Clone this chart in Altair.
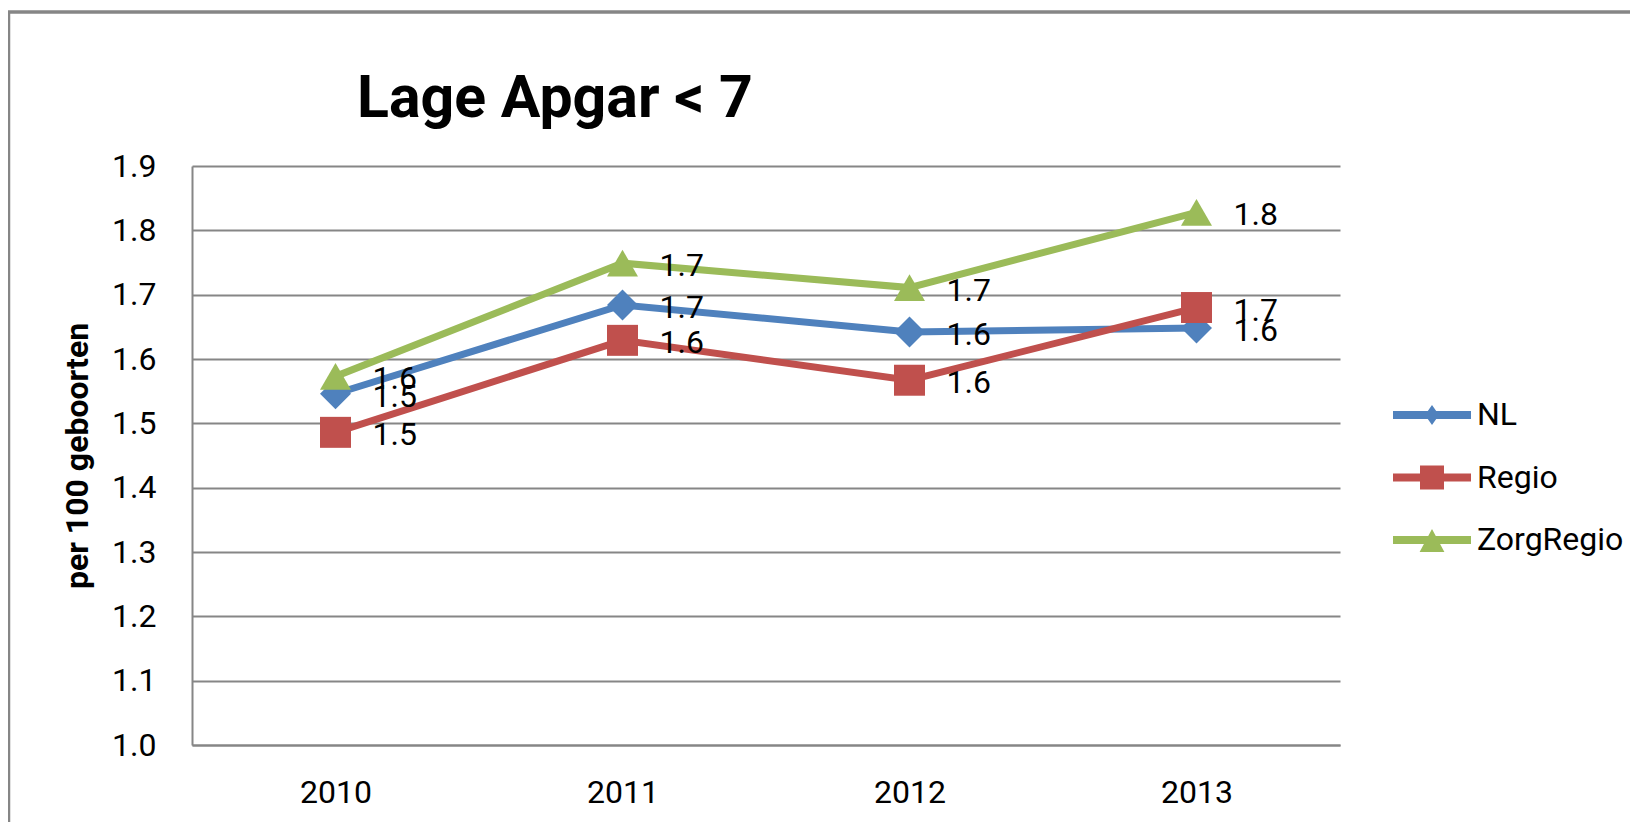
import altair as alt
import pandas as pd

TITLE = "Lage Apgar < 7"
Y_TITLE = "per 100 geboorten"
years = ["2010", "2011", "2012", "2013"]
series = ["NL", "Regio", "ZorgRegio"]
nl = [1.546, 1.684, 1.642, 1.648]
regio = [1.486, 1.629, 1.567, 1.680]
zorg = [1.573, 1.749, 1.711, 1.828]
y_ticks = [1.0, 1.1, 1.2, 1.3, 1.4, 1.5, 1.6, 1.7, 1.8, 1.9]
colors = ["#4F81BD", "#C0504D", "#9BBB59"]

rows = []
for name, vals in zip(series, [nl, regio, zorg]):
    for yr, v in zip(years, vals):
        rows.append({"year": yr, "series": name, "value": v})
df = pd.DataFrame(rows)

GRAY = "#868686"
FONT = "Roboto"

x_enc = alt.X(
    "year:O",
    sort=years,
    scale=alt.Scale(type="point", padding=0.5),
    axis=alt.Axis(
        title=None, labelAngle=0, labelFont=FONT, labelFontSize=32,
        labelColor="black", ticks=False, tickSize=0, labelPadding=32,
        domainColor=GRAY, domainWidth=2, grid=False,
    ),
)
y_enc = alt.Y(
    "value:Q",
    scale=alt.Scale(domain=[1.0, 1.9], nice=False, zero=False),
    axis=alt.Axis(
        values=y_ticks, format=".1f", title=Y_TITLE,
        titleFont=FONT, titleFontSize=32, titleFontWeight="bold",
        titleColor="black", titlePadding=17,
        labelFont=FONT, labelFontSize=32, labelColor="black",
        labelPadding=36, ticks=False, tickSize=0,
        domainColor=GRAY, domainWidth=2,
        grid=True, gridColor=GRAY, gridWidth=2,
    ),
)
color_scale = alt.Scale(domain=series, range=colors)

line_path = "M-1.95,-0.2L1.95,-0.2L1.95,0.2L-1.95,0.2Z"
legend_paths = [
    line_path + " M0,-0.5L0.35,0L0,0.5L-0.35,0Z",
    line_path + " M-0.6,-0.6L0.6,-0.6L0.6,0.6L-0.6,0.6Z",
    line_path + " M0,-0.55L0.62,0.6L-0.62,0.6Z",
]

lines = alt.Chart(df).mark_line(strokeWidth=7).encode(
    x=x_enc, y=y_enc,
    color=alt.Color("series:N", scale=color_scale, legend=None),
    order=alt.Order("year:O"),
)

points = alt.Chart(df).mark_point(filled=True, opacity=1, size=960).encode(
    x=x_enc, y=y_enc,
    color=alt.Color("series:N", scale=color_scale, legend=None),
    shape=alt.Shape(
        "series:N",
        scale=alt.Scale(domain=series, range=["diamond", "square", "triangle-up"]),
        legend=None,
    ),
)

labels = alt.Chart(df).mark_text(
    align="left", baseline="middle", dx=37, dy=3,
    font=FONT, fontSize=32, color="black",
).encode(x=x_enc, y=y_enc, text=alt.Text("value:Q", format=".1f"))

legend = alt.Legend(
    title=None, orient="none", legendX=1220, legendY=229, padding=0,
    labelFont=FONT, labelFontSize=32, labelColor="black",
    labelOffset=25, symbolSize=1600, rowPadding=26.5,
    symbolStrokeWidth=0, symbolOpacity=1,
)
legend_layer = alt.Chart(df).mark_point(filled=True, opacity=0).encode(
    x=x_enc, y=y_enc,
    color=alt.Color("series:N", scale=color_scale, legend=legend),
    shape=alt.Shape(
        "series:N",
        scale=alt.Scale(domain=series, range=legend_paths),
        legend=legend,
    ),
)

frame = alt.Chart(pd.DataFrame({"f": [1]})).mark_rect(
    fill=None, filled=False, stroke=GRAY, strokeWidth=3.5,
).encode(
    x=alt.value(-183.5), x2=alt.value(1480),
    y=alt.value(-154), y2=alt.value(720),
)

title = alt.Chart(pd.DataFrame({"t": [TITLE]})).mark_text(
    align="left", baseline="alphabetic", font=FONT, fontSize=59,
    fontWeight="bold", color="black",
).encode(x=alt.value(165), y=alt.value(-49), text="t:N")

chart = alt.layer(frame, lines, points, labels, legend_layer, title).resolve_scale(
    color="independent", shape="independent"
).properties(
    width=1148, height=579,
    padding={"left": 184, "top": 158, "right": 290, "bottom": 77},
    autosize=alt.AutoSizeParams(type="none"),
    background="white",
).configure_view(stroke=None)

chart.save("out.html", embed_options={"renderer": "svg", "actions": False})
